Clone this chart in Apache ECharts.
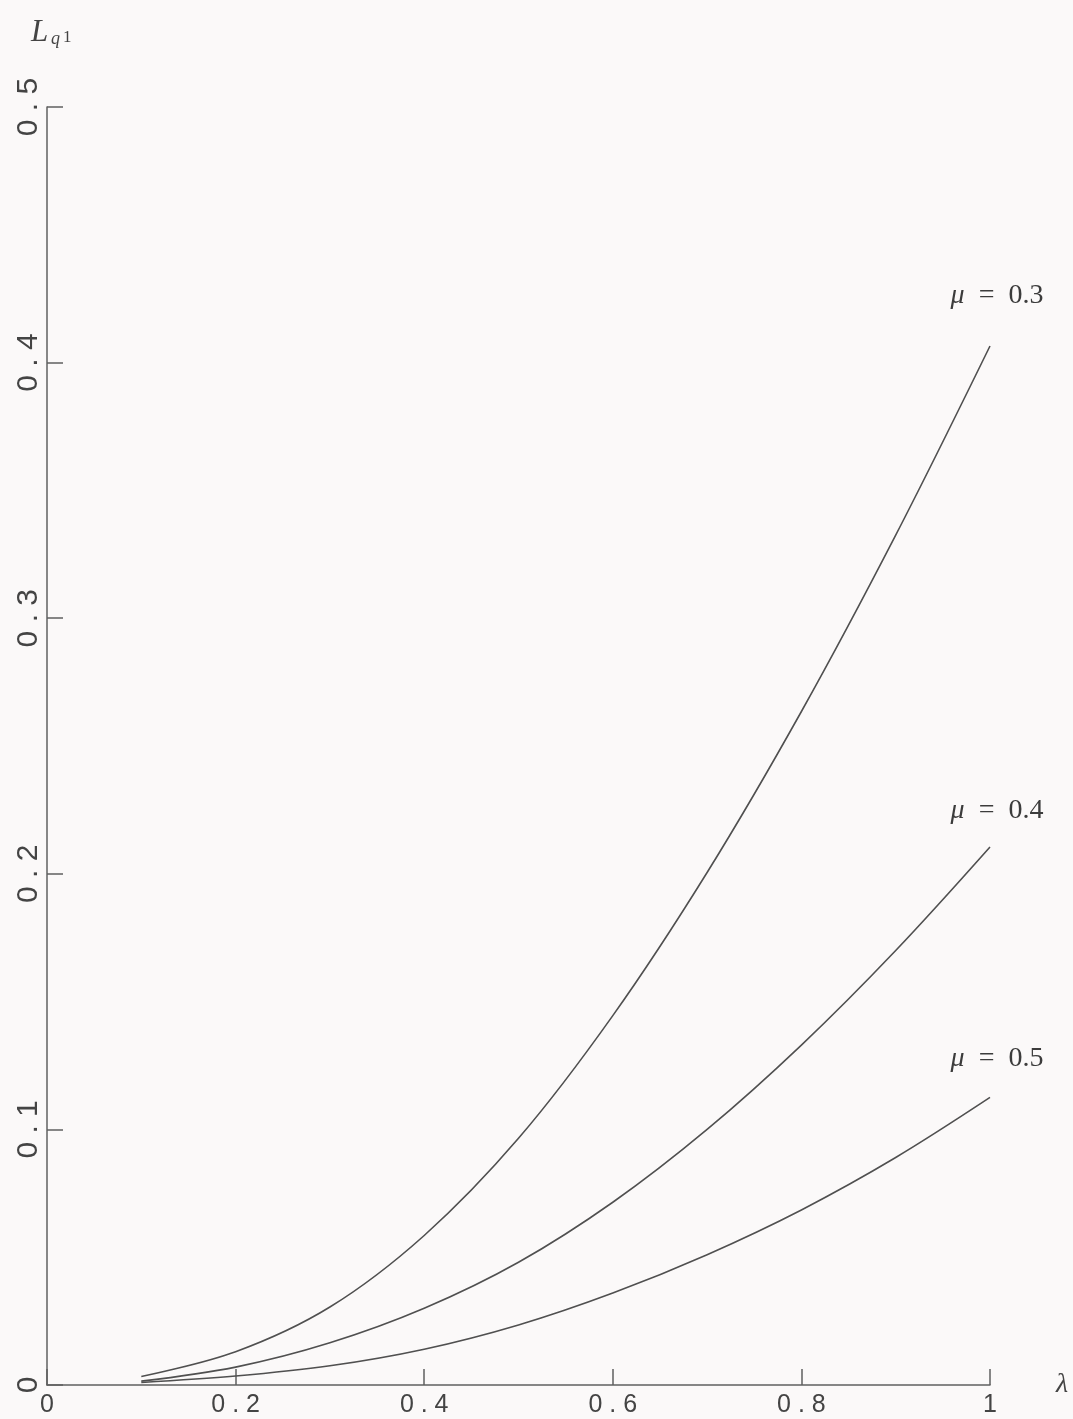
<!DOCTYPE html>
<html>
<head>
<meta charset="utf-8">
<script src="https://cdn.jsdelivr.net/npm/echarts@6/dist/echarts.min.js"></script>
<style>
  html, body { margin: 0; padding: 0; background: #fbf9f9; }
  #chart { width: 1073px; height: 1419px; }
</style>
</head>
<body>
<div id="chart"></div>
<script>
// ---- data ----
const lambdas = [0.1, 0.2, 0.3, 0.4, 0.5, 0.6, 0.7, 0.8, 0.9, 1.0];
const mu03 = [0.0033, 0.013, 0.0305, 0.0585, 0.0965, 0.1445, 0.2005, 0.2635, 0.3325, 0.4065];
const mu04 = [0.0015, 0.007, 0.0165, 0.030, 0.048, 0.0715, 0.100, 0.133, 0.170, 0.2105];
const mu05 = [0.0010, 0.0035, 0.0075, 0.014, 0.0235, 0.036, 0.051, 0.0685, 0.089, 0.1125];
const seriesNames = ['0.3', '0.4', '0.5'];
const xTickLabels = { '0': '0', '0.2': '0 . 2', '0.4': '0 . 4', '0.6': '0 . 6', '0.8': '0 . 8', '1': '1' };
const yTickLabels = { '0': '0', '0.1': '0 . 1', '0.2': '0 . 2', '0.3': '0 . 3', '0.4': '0 . 4', '0.5': '0 . 5' };

const ink = '#505050';
const axisInk = '#606060';
const labelDist = [36, 22, 25];

function makeSeries(vals, idx) {
  const data = lambdas.map((x, i) => {
    const item = { value: [x, vals[i]] };
    if (i === lambdas.length - 1) {
      item.label = {
        show: true,
        position: 'top',
        distance: labelDist[idx],
        offset: [7, 0],
        formatter: '{m|μ}  =  ' + seriesNames[idx],
        fontFamily: '"Liberation Serif", "DejaVu Serif", serif',
        fontSize: 28,
        color: '#3c3c3c',
        rich: {
          m: { fontFamily: '"Liberation Serif", serif', fontStyle: 'italic', fontSize: 28, color: '#3c3c3c' }
        }
      };
    }
    return item;
  });
  return {
    type: 'line',
    data: data,
    smooth: 0.35,
    showSymbol: true,
    symbol: 'circle',
    symbolSize: 0,
    lineStyle: { color: ink, width: 1.6 },
    itemStyle: { color: ink },
    label: { show: false },
    emphasis: { disabled: true },
    silent: true
  };
}

const chart = echarts.init(document.getElementById('chart'), null, { renderer: 'canvas' });
chart.setOption({
  animation: false,
  backgroundColor: '#fbf9f9',
  grid: { left: 47, right: 83, top: 107, bottom: 34, containLabel: false },
  xAxis: {
    type: 'value', min: 0, max: 1, interval: 0.2,
    axisLine: { show: true, onZero: false, lineStyle: { color: axisInk, width: 1.5 } },
    axisTick: { show: true, inside: true, length: 16, lineStyle: { color: axisInk, width: 1.5 } },
    splitLine: { show: false },
    axisLabel: {
      margin: 8,
      fontFamily: '"Liberation Sans", Arial, sans-serif',
      fontSize: 25, color: '#444',
      formatter: v => xTickLabels[String(+v.toFixed(2))] || ''
    },
    name: 'λ',
    nameLocation: 'end',
    nameGap: 66,
    nameTextStyle: { fontFamily: '"Liberation Serif", serif', fontStyle: 'italic', fontSize: 28, color: '#444', verticalAlign: 'middle', padding: [6, 0, 0, 0] }
  },
  yAxis: {
    type: 'value', min: 0, max: 0.5, interval: 0.1,
    axisLine: { show: true, onZero: false, lineStyle: { color: axisInk, width: 1.5 } },
    axisTick: { show: true, inside: true, length: 16, lineStyle: { color: axisInk, width: 1.5 } },
    splitLine: { show: false },
    axisLabel: {
      rotate: 90,
      margin: 3,
      fontFamily: '"Liberation Sans", Arial, sans-serif',
      fontSize: 30, color: '#444',
      formatter: v => yTickLabels[String(+v.toFixed(2))] || ''
    }
  },
  graphic: [
    { type: 'text', left: 31, top: 17, style: { text: 'L', font: 'italic 31px "Liberation Serif", serif', fill: '#444' } },
    { type: 'text', left: 51, top: 30, style: { text: 'q', font: 'italic 18px "Liberation Serif", serif', fill: '#444' } },
    { type: 'text', left: 63, top: 29, style: { text: '1', font: '17px "Liberation Serif", serif', fill: '#444' } }
  ],
  series: [makeSeries(mu03, 0), makeSeries(mu04, 1), makeSeries(mu05, 2)]
});
</script>
</body>
</html>
